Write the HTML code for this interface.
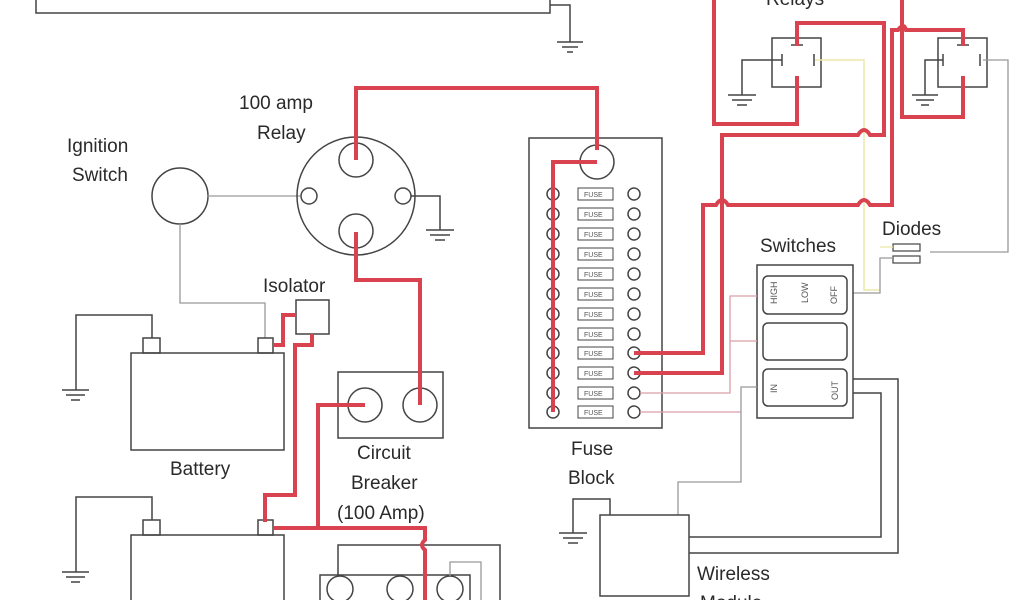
<!DOCTYPE html>
<html><head><meta charset="utf-8"><style>
html,body{margin:0;padding:0;background:#fff;}
svg{display:block;}
text{font-family:"Liberation Sans",sans-serif;font-size:19px;fill:#2a2a2a;}
.g{fill:none;stroke:#444;stroke-width:1.5;}
.l{fill:none;stroke:#999;stroke-width:1.3;}
.p{fill:none;stroke:#d9a0a8;stroke-width:1.3;}
.r{fill:none;stroke:#d9424f;stroke-width:4;stroke-linejoin:miter;}
.f{font-size:7px;fill:#555;}
</style></head><body>
<svg width="1024" height="600" viewBox="0 0 1024 600">
<path class="g" d="M36 0V13H550V0"/>
<path class="g" d="M550 5H570V42"/>
<path class="g" d="M557 42H583M562 47H578M567 52H573"/>
<text x="67" y="152">Ignition</text><text x="72" y="181">Switch</text>
<circle class="g" cx="180" cy="196" r="28"/>
<path class="l" d="M207 196H300M180 224V303H265V338"/>
<text x="239" y="109">100 amp</text><text x="257" y="139">Relay</text>
<circle class="g" cx="356" cy="196" r="59"/>
<circle class="g" cx="356" cy="160" r="17"/>
<circle class="g" cx="356" cy="231" r="17"/>
<circle class="g" cx="309" cy="196" r="8"/>
<circle class="g" cx="403" cy="196" r="8"/>
<path class="g" d="M411 196H440V230M426 230H454M430 235H450M435 240H445"/>
<text x="263" y="292">Isolator</text>
<rect class="g" x="296" y="300" width="33" height="34"/>
<rect class="g" x="131" y="353" width="153" height="97"/>
<rect class="g" x="143" y="338" width="17" height="15"/>
<rect class="g" x="258" y="338" width="15" height="15"/>
<path class="g" d="M152 338V315H76V390M62 390H89M66 395H85M71 400H80"/>
<text x="170" y="475">Battery</text>
<rect class="g" x="131" y="535" width="153" height="80"/>
<rect class="g" x="143" y="520" width="17" height="15"/>
<rect class="g" x="258" y="520" width="15" height="15"/>
<path class="g" d="M152 520V497H76V572M62 572H89M66 577H85M71 582H80"/>
<rect class="g" x="338" y="372" width="105" height="66"/>
<circle class="g" cx="365" cy="405" r="17"/>
<circle class="g" cx="420" cy="405" r="17"/>
<text x="357" y="459">Circuit</text><text x="351" y="489">Breaker</text><text x="337" y="519">(100 Amp)</text>
<path class="g" d="M338 575V545H500V600"/>
<rect class="g" x="320" y="575" width="150" height="40"/>
<circle class="g" cx="340" cy="589" r="13"/>
<circle class="g" cx="400" cy="589" r="13"/>
<circle class="g" cx="450" cy="589" r="13"/>
<path class="l" d="M450 576V562H481V600"/>
<rect class="g" x="529" y="138" width="133" height="290"/>
<circle class="g" cx="597" cy="162" r="17"/>
<g>
<circle class="g" cx="553" cy="194" r="6"/><rect class="g" x="578" y="188" width="35" height="12" style="stroke-width:1"/><text class="f" x="584" y="197">FUSE</text><circle class="g" cx="634" cy="194" r="6"/>
<circle class="g" cx="553" cy="214" r="6"/><rect class="g" x="578" y="208" width="35" height="12" style="stroke-width:1"/><text class="f" x="584" y="217">FUSE</text><circle class="g" cx="634" cy="214" r="6"/>
<circle class="g" cx="553" cy="234" r="6"/><rect class="g" x="578" y="228" width="35" height="12" style="stroke-width:1"/><text class="f" x="584" y="237">FUSE</text><circle class="g" cx="634" cy="234" r="6"/>
<circle class="g" cx="553" cy="254" r="6"/><rect class="g" x="578" y="248" width="35" height="12" style="stroke-width:1"/><text class="f" x="584" y="257">FUSE</text><circle class="g" cx="634" cy="254" r="6"/>
<circle class="g" cx="553" cy="274" r="6"/><rect class="g" x="578" y="268" width="35" height="12" style="stroke-width:1"/><text class="f" x="584" y="277">FUSE</text><circle class="g" cx="634" cy="274" r="6"/>
<circle class="g" cx="553" cy="294" r="6"/><rect class="g" x="578" y="288" width="35" height="12" style="stroke-width:1"/><text class="f" x="584" y="297">FUSE</text><circle class="g" cx="634" cy="294" r="6"/>
<circle class="g" cx="553" cy="314" r="6"/><rect class="g" x="578" y="308" width="35" height="12" style="stroke-width:1"/><text class="f" x="584" y="317">FUSE</text><circle class="g" cx="634" cy="314" r="6"/>
<circle class="g" cx="553" cy="334" r="6"/><rect class="g" x="578" y="328" width="35" height="12" style="stroke-width:1"/><text class="f" x="584" y="337">FUSE</text><circle class="g" cx="634" cy="334" r="6"/>
<circle class="g" cx="553" cy="353" r="6"/><rect class="g" x="578" y="347" width="35" height="12" style="stroke-width:1"/><text class="f" x="584" y="356">FUSE</text><circle class="g" cx="634" cy="353" r="6"/>
<circle class="g" cx="553" cy="373" r="6"/><rect class="g" x="578" y="367" width="35" height="12" style="stroke-width:1"/><text class="f" x="584" y="376">FUSE</text><circle class="g" cx="634" cy="373" r="6"/>
<circle class="g" cx="553" cy="393" r="6"/><rect class="g" x="578" y="387" width="35" height="12" style="stroke-width:1"/><text class="f" x="584" y="396">FUSE</text><circle class="g" cx="634" cy="393" r="6"/>
<circle class="g" cx="553" cy="412" r="6"/><rect class="g" x="578" y="406" width="35" height="12" style="stroke-width:1"/><text class="f" x="584" y="415">FUSE</text><circle class="g" cx="634" cy="412" r="6"/>
</g>
<text x="571" y="455">Fuse</text><text x="568" y="484">Block</text>
<text x="766" y="5">Relays</text>
<rect class="g" x="772" y="38" width="49" height="49"/>
<rect class="g" x="938" y="38" width="49" height="49"/>
<path class="g" d="M782 54V66M814 54V66M791 45H803M943 54V66M980 54V66M957 45H969"/>
<path class="g" d="M782 60H742V95M728 95H756M732 100H752M737 105H747"/>
<path class="g" d="M943 60H925V95M912 95H938M916 100H934M921 105H929"/>
<path d="M815 60H864V290H880" fill="none" stroke="#ece9a8" stroke-width="1.5"/>
<path class="l" d="M983 60H1008V252H930"/>
<text x="882" y="235">Diodes</text>
<rect class="g" x="893" y="244" width="27" height="7" style="stroke-width:1.2"/>
<rect class="g" x="893" y="256" width="27" height="7" style="stroke-width:1.2"/>
<path class="l" d="M893 258H880V293H853"/>
<path d="M880 247H893" stroke="#ece9a8" stroke-width="1.3" fill="none"/>
<text x="760" y="252">Switches</text>
<rect class="g" x="757" y="265" width="96" height="153"/>
<rect class="g" x="763" y="276" width="84" height="38" rx="5"/>
<rect class="g" x="763" y="323" width="84" height="37" rx="5"/>
<rect class="g" x="763" y="369" width="84" height="37" rx="5"/>
<text class="f" style="font-size:9px" transform="translate(777 304) rotate(-90)">HIGH</text>
<text class="f" style="font-size:9px" transform="translate(808 303) rotate(-90)">LOW</text>
<text class="f" style="font-size:9px" transform="translate(837 304) rotate(-90)">OFF</text>
<text class="f" style="font-size:9px" transform="translate(777 393) rotate(-90)">IN</text>
<text class="f" style="font-size:9px" transform="translate(838 400) rotate(-90)">OUT</text>
<path class="p" d="M757 296H730V393H640M730 341H757M640 412H741"/>
<path class="l" d="M757 387H741V482H678V515"/>
<path class="g" d="M853 379H898V553H689M853 393H881V537H689"/>
<rect class="g" x="600" y="515" width="89" height="81"/>
<path class="g" d="M610 515V499H573V533M559 533H587M563 538H583M568 543H578"/>
<text x="697" y="580">Wireless</text><text x="700" y="609">Module</text>
<path class="r" d="M356 160V88H597V150"/>
<path class="r" d="M597 162H553V412"/>
<path class="r" d="M356 232V280H420V405"/>
<path class="r" d="M365 405H318V528"/>
<path class="r" d="M273 345H283V315H296"/>
<path class="r" d="M312 334V345H295V495H265V522"/>
<path class="r" d="M273 528H425V540Q419 545 425 550V600"/>
<path class="r" d="M634 353H703V205H716Q722 195 728 205H858Q864 195 870 205H892V30H898Q904 22 906 30H963V46"/>
<path class="r" d="M634 373H722V135H858Q864 125 870 135H884V23H797V46"/>
<path class="r" d="M714 0V124H797V76"/>
<path class="r" d="M902 0V117H963V76"/>
</svg>
</body></html>
